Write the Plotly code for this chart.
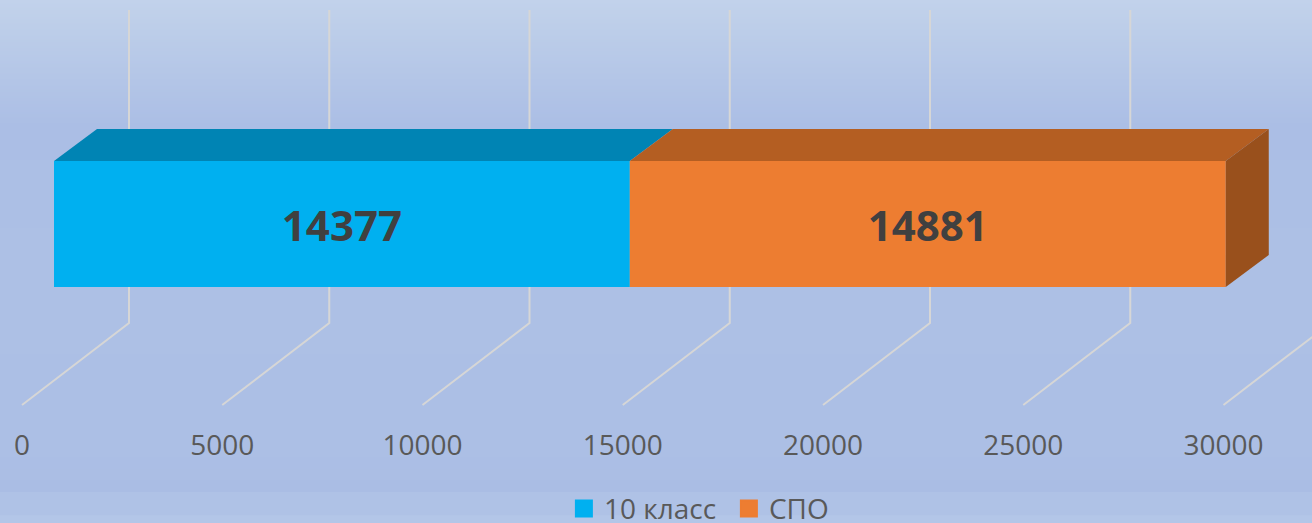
import numpy as np
import plotly.graph_objects as go

# --- data
SERIES = ["10 класс", "СПО"]
VALUES = [14377, 14881]
FRONT_COLORS = ["#00B0F0", "#ED7D31"]
TOP_COLORS = ["#0084B4", "#B45E22"]
SIDE_COLOR = "#99501C"
TICKS = [0, 5000, 10000, 15000, 20000, 25000, 30000]

# --- geometry of the oblique 3D projection (pixels)
W, H = 1312, 523
UNIT = 0.04005            # px per value unit
ORIGIN = 22               # px of value 0 on the floor front edge
FLOOR_FRONT, FLOOR_BACK, WALL_TOP = 405, 323, 10
WALL_DX = 107 / UNIT
BAR_OFFSET = 32 / UNIT
BAR_TOP, BAR_BOTTOM = 161, 287
BAR_DX, BAR_DY = 43 / UNIT, 32

xr = [-ORIGIN / UNIT, (W - ORIGIN) / UNIT]

fig = go.Figure()

# background gradient
grad = np.linspace(0, 1, H + 1)
fig.add_trace(go.Heatmap(
    z=np.column_stack([grad, grad]), x=xr, y=np.arange(H + 1),
    zmin=0, zmax=1, showscale=False, hoverinfo="skip",
    colorscale=[[0, "#C2D2EB"], [0.05, "#BDCEE9"], [0.24, "#ABBEE5"], [0.5, "#ADC0E5"],
                [0.85, "#ACBFE5"], [0.94, "#AABDE4"], [0.9405, "#AFC2E6"],
                [0.984, "#AFC2E6"], [0.985, "#B3C6E8"], [1, "#B3C6E8"]],
))

# slanted floor + wall gridlines
for t in TICKS:
    fig.add_trace(go.Scatter(
        x=[t, t + WALL_DX, t + WALL_DX], y=[FLOOR_FRONT, FLOOR_BACK, WALL_TOP],
        mode="lines", line=dict(color="#D6D6D6", width=2),
        showlegend=False, hoverinfo="skip",
    ))

# bars (on an overlaid axis pair so that they sit above the gridlines)
cum = BAR_OFFSET
for name, v, fc, tc in zip(SERIES, VALUES, FRONT_COLORS, TOP_COLORS):
    fig.add_trace(go.Bar(
        x=[v], base=[cum], y=[(BAR_TOP + BAR_BOTTOM) / 2], width=[BAR_BOTTOM - BAR_TOP],
        orientation="h", marker=dict(color=fc, line_width=0), showlegend=False,
        xaxis="x2", yaxis="y2", hoverinfo="skip",
    ))
    fig.add_trace(go.Scatter(
        x=[cum, cum + v, cum + v + BAR_DX, cum + BAR_DX, cum],
        y=[BAR_TOP, BAR_TOP, BAR_TOP - BAR_DY, BAR_TOP - BAR_DY, BAR_TOP],
        mode="lines", fill="toself", fillcolor=tc, line=dict(width=0),
        showlegend=False, hoverinfo="skip", xaxis="x2", yaxis="y2",
    ))
    fig.add_trace(go.Scatter(
        x=[cum + v / 2], y=[(BAR_TOP + BAR_BOTTOM) / 2 + 6], mode="text", text=[str(v)],
        textposition="middle center",
        textfont=dict(family="Open Sans", size=42, color="#404040", weight="bold"),
        showlegend=False, hoverinfo="skip", xaxis="x2", yaxis="y2",
    ))
    cum += v
fig.add_trace(go.Scatter(
    x=[cum, cum + BAR_DX, cum + BAR_DX, cum, cum],
    y=[BAR_TOP, BAR_TOP - BAR_DY, BAR_BOTTOM - BAR_DY, BAR_BOTTOM, BAR_TOP],
    mode="lines", fill="toself", fillcolor=SIDE_COLOR, line=dict(width=0),
    showlegend=False, hoverinfo="skip", xaxis="x2", yaxis="y2",
))

# legend entries
for name, fc in zip(SERIES, FRONT_COLORS):
    fig.add_trace(go.Scatter(
        x=[None], y=[None], name=name, mode="markers",
        marker=dict(symbol="square", size=16, color=fc, line=dict(color=fc, width=2)),
    ))

fig.update_layout(
    width=W, height=H, autosize=False,
    margin=dict(l=0, r=0, t=0, b=0, autoexpand=False),
    paper_bgcolor="#ACBFE5", plot_bgcolor="rgba(0,0,0,0)",
    barmode="overlay",
    font=dict(family="Open Sans", color="#595959"),
    xaxis=dict(range=xr, domain=[0, 1], anchor="free", position=(H - FLOOR_FRONT) / H,
               tickvals=TICKS, ticktext=[str(t) for t in TICKS], ticks="", showgrid=False,
               zeroline=False, showline=False, tickangle=0,
               tickfont=dict(family="Open Sans", size=28, color="#595959"), ticklabelstandoff=21),
    yaxis=dict(range=[H, 0], domain=[0, 1], visible=False, fixedrange=True),
    xaxis2=dict(range=xr, overlaying="x", visible=False, anchor="y2"),
    yaxis2=dict(range=[H, 0], overlaying="y", visible=False, anchor="x2"),
    showlegend=True,
    legend=dict(orientation="h", x=0.4298, xanchor="left", y=0.075, yanchor="top",
                bgcolor="rgba(0,0,0,0)", font=dict(family="Open Sans", size=28, color="#595959"),
                itemsizing="trace", entrywidth=120, entrywidthmode="pixels"),
)

fig.write_html("out.html", config={"displayModeBar": False},
               post_script="document.body.style.margin='0';document.body.style.overflow='hidden';")
